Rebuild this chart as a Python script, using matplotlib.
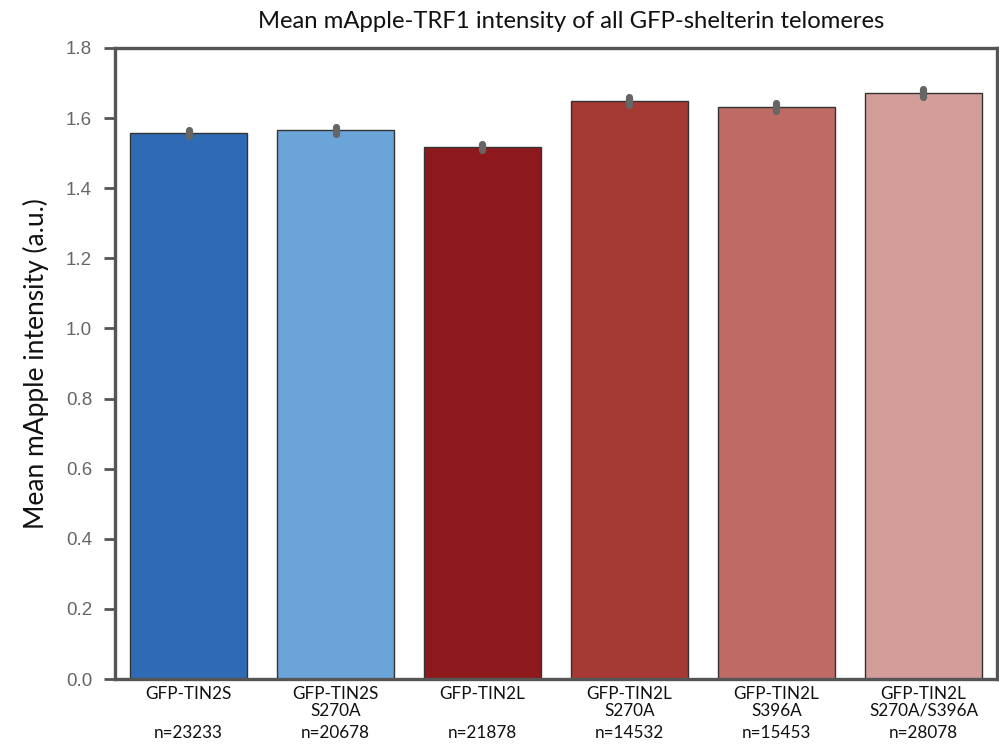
import matplotlib
matplotlib.use("Agg")
import matplotlib.pyplot as plt
import numpy as np

categories = ["GFP-TIN2S\n", "GFP-TIN2S\nS270A", "GFP-TIN2L\n", "GFP-TIN2L\nS270A",
              "GFP-TIN2L\nS396A", "GFP-TIN2L\nS270A/S396A"]
n_labels = ["n=23233", "n=20678", "n=21878", "n=14532", "n=15453", "n=28078"]
means = [1.557, 1.566, 1.518, 1.648, 1.631, 1.671]
errs = [0.008, 0.010, 0.009, 0.012, 0.012, 0.011]
colors = ["#2E6BB4", "#6AA4D9", "#8E191D", "#A53A34", "#BE6B65", "#D39D99"]
yticks = [0.0, 0.2, 0.4, 0.6, 0.8, 1.0, 1.2, 1.4, 1.6, 1.8]

W, H = 999, 745
fig = plt.figure(figsize=(W / 100, H / 100), dpi=100)
ax = fig.add_axes([115 / W, 1 - 679 / H, (997 - 115) / W, (679 - 48) / H])

x = np.arange(len(means))
ax.bar(x, means, width=0.8, color=colors, edgecolor="#333333", linewidth=1.0, zorder=2)
for xi, m, e in zip(x, means, errs):
    ax.plot([xi, xi], [m - e, m + e], color="#666666", lw=5.2,
            solid_capstyle="round", zorder=3)

ax.set_xlim(-0.5, len(means) - 0.5)
ax.set_ylim(0, 1.8)
ax.set_yticks(yticks)
ax.set_yticklabels([f"{t:.1f}" for t in yticks], family="Liberation Sans",
                   fontsize=13.5, color="#666666")
ax.set_xticks(x)
ax.set_xticklabels(categories, family="Lato", fontsize=12.3, color="#111111",
                   linespacing=1.05)
ax.tick_params(axis="x", length=0, pad=5)
ax.tick_params(axis="y", length=8, width=2, color="#555555", direction="out", pad=8.5)

for s in ax.spines.values():
    s.set_color("#555555")
    s.set_linewidth(2.4)

for xi, nl in zip(x, n_labels):
    ax.text(xi, -0.153, nl, transform=ax.transData,
            ha="center", va="center", family="Lato", fontsize=12.3, color="#111111",
            clip_on=False)

ax.set_ylabel("Mean mApple intensity (a.u.)", family="Lato", fontsize=19,
              color="#111111", labelpad=12)
fig.text(571 / W, 1 - 21 / H, "Mean mApple-TRF1 intensity of all GFP-shelterin telomeres",
         ha="center", va="center", family="Lato", fontsize=17.2, color="#111111")

fig.savefig("out.png", dpi=100)
